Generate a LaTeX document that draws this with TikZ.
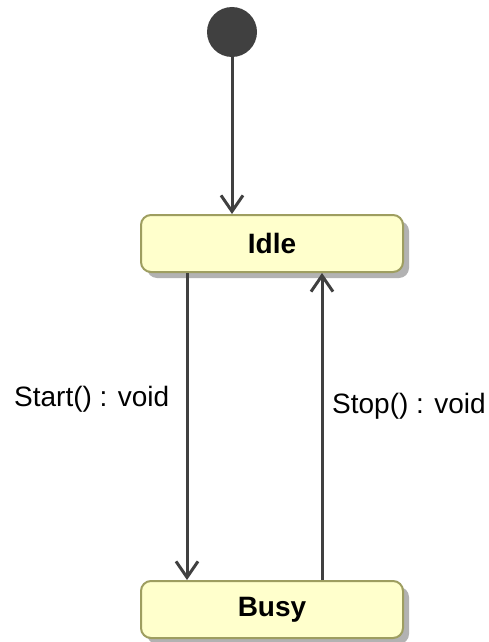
\documentclass[tikz,border=0pt]{standalone}
\usepackage{fontspec}
\setmainfont{Liberation Sans}
\usetikzlibrary{arrows.meta,shadows}
\definecolor{statefill}{RGB}{255,255,204}
\definecolor{stateline}{RGB}{158,158,96}
\definecolor{edgecol}{RGB}{64,64,64}

\begin{document}
\begin{tikzpicture}[x=1pt, y=-1pt,
    state/.style={draw=stateline, fill=statefill, line width=2pt, rounded corners=10pt,
        minimum width=262pt, minimum height=57pt, inner sep=0pt,
        font=\fontsize{28}{34}\selectfont\bfseries,
        drop shadow={shadow xshift=6pt, shadow yshift=-6pt, fill=black!30, opacity=1}},
    trans/.style={draw=edgecol, line width=3pt, -{Straight Barb[length=16pt,width=22pt]}},
    lbl/.style={font=\fontsize{28}{34}\selectfont, inner sep=0pt, anchor=base west}]
\useasboundingbox (0,0) rectangle (488,642);
%initial state
\node[circle, fill=edgecol, minimum size=50pt, inner sep=0pt] (init) at (232,32) {};
%states
\node[state] (idle) at (272,243.5) {Idle};
\node[state] (busy) at (272,609.5) {Busy};
%transitions
\draw[trans] (init) -- (init |- idle.north);
\draw[trans] ([xshift=47pt]idle.south west) -- ([xshift=47pt]busy.north west);
\draw[trans] ([xshift=182pt]busy.north west) -- ([xshift=182pt]idle.south west);
%labels
\node[lbl] (startlbl) at (14,406) {Start() : void};
\node[lbl] (stoplbl) at (332,413.5) {Stop() : void};
\end{tikzpicture}
\end{document}
